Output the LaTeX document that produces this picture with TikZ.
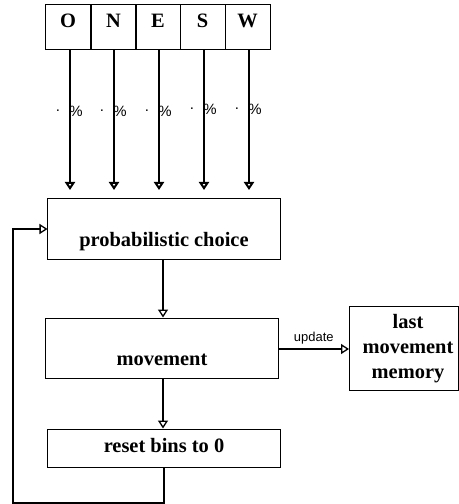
\documentclass[tikz,border=0pt]{standalone}
\usepackage{fontspec}
\setmainfont{Liberation Serif}
\newfontfamily\labsans{Liberation Sans}
\usetikzlibrary{arrows.meta}
\begin{document}
\begin{tikzpicture}[x=1bp,y=-1bp,
  cell/.style={draw,line width=1bp,minimum width=45bp,minimum height=45bp,inner sep=0pt},
  btext/.style={font=\fontsize{20.5}{24}\selectfont\bfseries,inner sep=0pt},
  small/.style={font=\labsans\fontsize{13}{15}\selectfont,inner sep=0pt},
  pctfont/.style={font=\labsans\fontsize{15}{17}\selectfont,inner sep=0pt},
  tip/.style={-{Triangle[open,length=8bp,width=10bp]}},
  thin/.style={line width=1.3bp},
  thickarr/.style={line width=2.8bp}
]
\useasboundingbox (0,0) rectangle (459,504);
% top cells
\foreach \n/\t/\x in {o/O/68, n/N/113.5, e/E/158, s/S/202.5, w/W/247.5}{
  \node[cell] (\n) at (\x,27.5) {};
  \node[btext,anchor=base] (\n t) at (\x,28) {\t};
}
% arrows and labels
\foreach \n/\lx/\ly in {o/70/111, n/114/111, e/159/111, s/204/109, w/249/109}{
  \coordinate (\n end) at (\lx,190);
  \draw[thickarr,tip] (\lx,50) -- (\n end);
  \node[pctfont] (\n dot) at (\lx-12,\ly) {.};
  \node[pctfont] (\n pct) at (\lx+6,\ly) {\%};
}
% boxes
\node[draw,line width=1bp,minimum width=232bp,minimum height=60bp,inner sep=0pt] (pc) at (164,229) {};
\node[btext] (pct) at (164,242) {probabilistic choice};
\node[draw,line width=1bp,minimum width=232bp,minimum height=60bp,inner sep=0pt] (mv) at (162,348) {};
\node[btext] (mvt) at (162,360) {movement};
\node[draw,line width=1bp,minimum width=232bp,minimum height=38bp,inner sep=0pt] (rb) at (164,448) {};
\node[btext] (rbt) at (164,446) {reset bins to 0};
\node[draw,line width=1bp,minimum width=109bp,minimum height=84bp,inner sep=0pt] (lm) at (404,348) {};
\node[btext,align=center] (lmt) at (408,349) {last\\[1bp]movement\\[1bp]memory};
% connectors
\draw[thin,tip] (pc.south -| 163,0) -- (mv.north -| 163,0);
\draw[thin,tip] (mv.south -| 163,0) -- (rb.north -| 163,0);
\draw[thin,tip] (mv.east |- 0,349) -- node[small,above=4bp] (upd) {update} (lm.west |- 0,349);
\coordinate (c1) at (164,503);
\coordinate (c2) at (13,503);
\coordinate (c3) at (13,229);
\draw[thin,tip] (rb.south -| 164,0) -- (c1) -- (c2) -- (c3) -- (pc.west |- c3);
\end{tikzpicture}
\end{document}
